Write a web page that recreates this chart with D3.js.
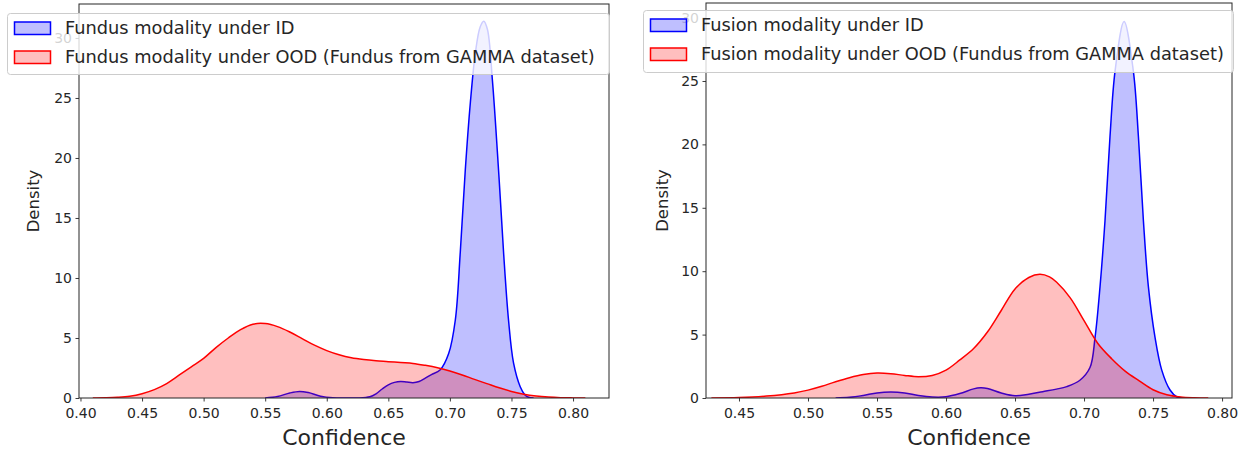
<!DOCTYPE html>
<html>
<head>
<meta charset="utf-8">
<script src="https://cdn.jsdelivr.net/npm/d3@7"></script>
<style>
  html, body { margin: 0; padding: 0; background: #fff; }
  svg { display: block; font-family: "DejaVu Sans", sans-serif; }
</style>
</head>
<body>
<svg id="chart" width="1251" height="453"></svg>
<script>
// ---------------- DATA ----------------
const xTicksLeft = [0.40, 0.45, 0.50, 0.55, 0.60, 0.65, 0.70, 0.75, 0.80];
const xTicksRight = [0.45, 0.50, 0.55, 0.60, 0.65, 0.70, 0.75, 0.80];
const yTicks = [0, 5, 10, 15, 20, 25, 30];

const legendLeft = ["Fundus modality under ID", "Fundus modality under OOD (Fundus from GAMMA dataset)"];
const legendRight = ["Fusion modality under ID", "Fusion modality under OOD (Fundus from GAMMA dataset)"];
const xLabel = "Confidence";
const yLabel = "Density";

// Left panel: Fundus modality, ID (blue)
const fundusIdX = [0.550, 0.560, 0.570, 0.578, 0.585, 0.595, 0.605, 0.615, 0.625, 0.635, 0.640, 0.645, 0.650, 0.655, 0.660, 0.665, 0.670, 0.675, 0.680, 0.685, 0.692, 0.699, 0.7044, 0.7084, 0.7125, 0.7166, 0.7206, 0.7245, 0.7275, 0.7305, 0.7345, 0.7395, 0.7436, 0.7476, 0.7517, 0.7571, 0.761, 0.764, 0.768];
const fundusIdY = [0.0, 0.12, 0.42, 0.55, 0.45, 0.15, 0.02, 0.0, 0.0, 0.1, 0.35, 0.75, 1.1, 1.3, 1.38, 1.33, 1.28, 1.38, 1.65, 1.95, 2.33, 3.7, 6.5, 12.1, 19.0, 24.6, 28.7, 30.9, 31.4, 30.7, 26.5, 19.0, 12.1, 6.5, 2.9, 0.94, 0.25, 0.06, 0.0];

// Left panel: Fundus modality, OOD (red)
const fundusOodX = [0.41, 0.42, 0.43, 0.44, 0.45, 0.46, 0.47, 0.48, 0.49, 0.50, 0.51, 0.52, 0.53, 0.54, 0.55, 0.56, 0.57, 0.58, 0.59, 0.60, 0.61, 0.62, 0.63, 0.64, 0.65, 0.66, 0.67, 0.68, 0.69, 0.70, 0.71, 0.72, 0.73, 0.74, 0.75, 0.76, 0.77, 0.78, 0.79, 0.80, 0.81];
const fundusOodY = [0.0, 0.02, 0.06, 0.15, 0.36, 0.7, 1.2, 1.9, 2.6, 3.3, 4.2, 5.0, 5.7, 6.15, 6.2, 5.95, 5.5, 4.95, 4.4, 3.95, 3.6, 3.35, 3.2, 3.1, 3.03, 2.95, 2.88, 2.72, 2.52, 2.25, 1.92, 1.55, 1.2, 0.85, 0.55, 0.32, 0.17, 0.08, 0.03, 0.01, 0.0];

// Right panel: Fusion modality, ID (blue)
const fusionIdX = [0.52, 0.53, 0.54, 0.55, 0.56, 0.57, 0.58, 0.59, 0.60, 0.61, 0.62, 0.625, 0.63, 0.64, 0.65, 0.66, 0.67, 0.68, 0.6875, 0.697, 0.7043, 0.708, 0.7116, 0.7152, 0.7188, 0.7225, 0.729, 0.7357, 0.7394, 0.743, 0.7466, 0.7514, 0.7563, 0.7623, 0.7671, 0.772];
const fusionIdY = [0.0, 0.05, 0.2, 0.4, 0.47, 0.4, 0.2, 0.08, 0.1, 0.35, 0.72, 0.8, 0.75, 0.4, 0.18, 0.3, 0.5, 0.7, 0.9, 1.4, 2.4, 4.8, 8.8, 14.0, 20.6, 25.8, 29.7, 25.8, 20.6, 14.0, 8.8, 4.8, 2.2, 0.63, 0.1, 0.0];

// Right panel: Fusion modality, OOD (red)
const fusionOodX = [0.43, 0.45, 0.47, 0.49, 0.50, 0.51, 0.52, 0.53, 0.54, 0.55, 0.56, 0.57, 0.58, 0.59, 0.60, 0.61, 0.62, 0.63, 0.64, 0.65, 0.66, 0.668, 0.675, 0.68, 0.69, 0.70, 0.71, 0.72, 0.73, 0.74, 0.75, 0.76, 0.77, 0.78, 0.79];
const fusionOodY = [0.0, 0.03, 0.15, 0.4, 0.62, 0.92, 1.28, 1.6, 1.85, 1.97, 1.92, 1.78, 1.68, 1.78, 2.2, 3.0, 3.9, 5.2, 6.9, 8.6, 9.5, 9.75, 9.55, 9.15, 7.9, 6.1, 4.3, 3.1, 2.1, 1.35, 0.65, 0.25, 0.08, 0.02, 0.0];

// ---------------- LAYOUT ----------------
const panels = [
  { left: 79, right: 609, top: 4, bottom: 398, xDomain: [0.3988, 0.8292], yDomain: [0, 32.83],
    xTicks: xTicksLeft, idX: fundusIdX, idY: fundusIdY, oodX: fundusOodX, oodY: fundusOodY,
    legend: legendLeft, leg: { x: 7, y: 13, w: 602, h: 61 }, yLabelX: 33 },
  { left: 706, right: 1232, top: 3, bottom: 398, xDomain: [0.4261, 0.8072], yDomain: [0, 31.15],
    xTicks: xTicksRight, idX: fusionIdX, idY: fusionIdY, oodX: fusionOodX, oodY: fusionOodY,
    legend: legendRight, leg: { x: 643, y: 10, w: 590, h: 62 }, yLabelX: 662 }
];

const svg = d3.select("#chart");
const textColor = "#262626";

panels.forEach((p, pi) => {
  const x = d3.scaleLinear().domain(p.xDomain).range([p.left, p.right]);
  const y = d3.scaleLinear().domain(p.yDomain).range([p.bottom, p.top]);
  const g = svg.append("g");

  const clipId = "clip" + pi;
  svg.append("clipPath").attr("id", clipId)
    .append("rect").attr("x", p.left).attr("y", p.top)
    .attr("width", p.right - p.left).attr("height", p.bottom - p.top);

  const plot = g.append("g").attr("clip-path", `url(#${clipId})`);

  const curve = d3.curveCatmullRom.alpha(0.5);
  function drawSeries(xs, ys, color) {
    const data = xs.map((v, i) => [v, ys[i]]);
    const area = d3.area().x(d => x(d[0])).y0(y(0)).y1(d => y(d[1])).curve(curve);
    const line = d3.line().x(d => x(d[0])).y(d => y(d[1])).curve(curve);
    plot.append("path").datum(data).attr("d", area)
      .attr("fill", color).attr("fill-opacity", 0.25).attr("stroke", "none");
    plot.append("path").datum(data).attr("d", line)
      .attr("fill", "none").attr("stroke", color).attr("stroke-width", 1.5)
      .attr("stroke-linejoin", "round");
  }
  drawSeries(p.idX, p.idY, "#0000ff");
  drawSeries(p.oodX, p.oodY, "#ff0000");

  // axes
  const xAxis = d3.axisBottom(x).tickValues(p.xTicks).tickFormat(d3.format(".2f"))
    .tickSizeInner(3.5).tickSizeOuter(0).tickPadding(6.5);
  const yAxis = d3.axisLeft(y).tickValues(yTicks).tickFormat(d3.format("d"))
    .tickSizeInner(3.5).tickSizeOuter(0).tickPadding(3.5);

  const gx = g.append("g").attr("transform", `translate(0,${p.bottom})`).call(xAxis);
  const gy = g.append("g").attr("transform", `translate(${p.left},0)`).call(yAxis);
  [gx, gy].forEach(a => {
    a.select(".domain").remove();
    a.selectAll(".tick line").attr("stroke", textColor).attr("stroke-width", 0.9);
    a.selectAll(".tick text").attr("fill", textColor)
      .style("font-family", "DejaVu Sans").style("font-size", "14px");
  });

  // frame (spines)
  g.append("rect").attr("x", p.left).attr("y", p.top)
    .attr("width", p.right - p.left).attr("height", p.bottom - p.top)
    .attr("fill", "none").attr("stroke", textColor).attr("stroke-width", 1);

  // axis labels
  g.append("text").attr("x", (p.left + p.right) / 2).attr("y", 445)
    .attr("text-anchor", "middle").attr("fill", textColor)
    .style("font-size", "22px").text(xLabel);
  g.append("text")
    .attr("transform", `translate(${p.yLabelX + 6},${(p.top + p.bottom) / 2}) rotate(-90)`)
    .attr("text-anchor", "middle").attr("fill", textColor)
    .style("font-size", "16.5px").text(yLabel);

  // legend
  const L = p.leg;
  const lg = svg.append("g");
  lg.append("rect").attr("x", L.x + 0.5).attr("y", L.y + 0.5).attr("width", L.w).attr("height", L.h)
    .attr("rx", 3).attr("fill", "#ffffff").attr("fill-opacity", 0.8)
    .attr("stroke", "#cccccc").attr("stroke-width", 1);
  const colors = ["#0000ff", "#ff0000"];
  p.legend.forEach((t, i) => {
    const cy = L.y + 15 + i * 29;
    lg.append("rect").attr("x", L.x + 7.5).attr("y", cy - 6).attr("width", 36).attr("height", 12.5)
      .attr("fill", colors[i]).attr("fill-opacity", 0.25)
      .attr("stroke", colors[i]).attr("stroke-width", 1.5);
    lg.append("text").attr("x", L.x + 58).attr("y", cy).attr("dy", "0.35em")
      .attr("fill", textColor).style("font-size", "17.8px").text(t);
  });
});
</script>
</body>
</html>
